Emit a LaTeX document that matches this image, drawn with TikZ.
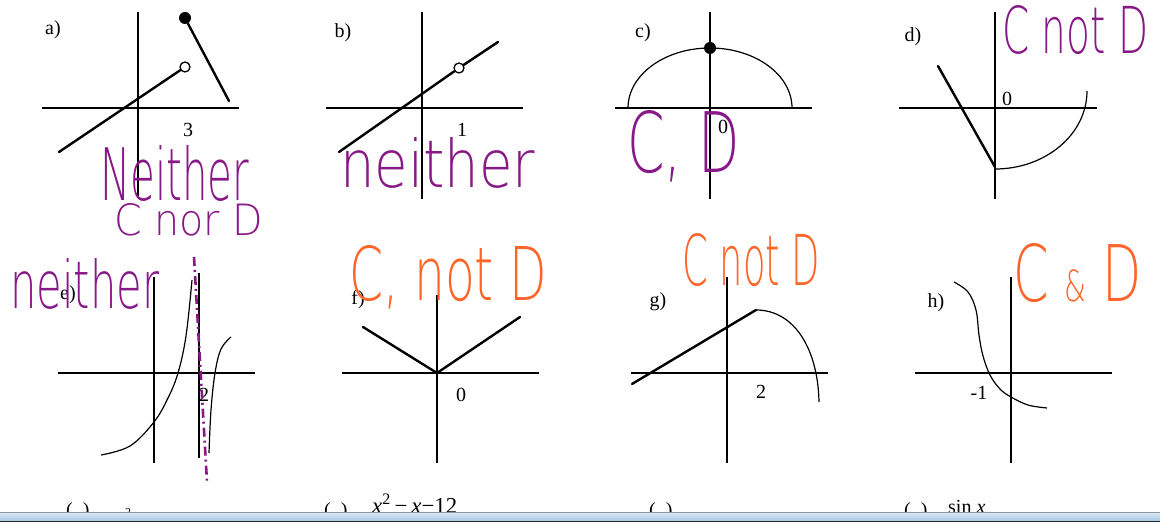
\documentclass[tikz,border=0pt]{standalone}
\usepackage{fontspec}
\usepackage{graphicx}
\setmainfont{Liberation Serif}
\newfontfamily\hand{DejaVu Sans ExtraLight}
\definecolor{ink}{RGB}{135,25,135}
\definecolor{hl}{RGB}{255,100,40}
\definecolor{barhi}{RGB}{215,230,245}
\definecolor{barlo}{RGB}{170,200,232}
\definecolor{barline}{RGB}{140,150,160}
\newcommand{\hw}[3]{\resizebox{#1pt}{#2pt}{\hand #3}}
\begin{document}
\begin{tikzpicture}[x=1pt,y=-1pt,
  axis/.style={line width=2.2pt,black},
  graph/.style={line width=2.4pt,black,line cap=round},
  curve/.style={line width=1.2pt,black},
  lbl/.style={font=\fontsize{20}{23}\selectfont, inner sep=0pt},
  odot/.style={circle, draw, line width=1.3pt, fill=white, minimum size=10pt, inner sep=0pt},
  fdot/.style={circle, fill=black, minimum size=12pt, inner sep=0pt},
  hwp/.style={text=ink, inner sep=0pt, anchor=north west},
  hwo/.style={text=hl, inner sep=0pt, anchor=north west}]
\useasboundingbox[fill=white] (0,0) rectangle (1160,529);

% ---------- a ----------
\draw[axis] (42,108) -- (239,108);
\draw[axis] (138,12) -- (138,197);
\node[odot] (ao) at (185,67) {};
\node[fdot] (af) at (185,18) {};
\coordinate (a1) at (59,152);
\coordinate (a2) at (229,101);
\draw[graph] (a1) -- (ao);
\draw[graph] (af) -- (a2);
\node[lbl] (alab) at (53,30) {a)};
\node[lbl] (a3) at (188,130) {3};

% ---------- b ----------
\draw[axis] (326,108) -- (523,108);
\draw[axis] (422,12) -- (422,199);
\node[odot] (bo) at (459,68) {};
\coordinate (b1) at (339,152);
\coordinate (b2) at (498,42);
\draw[graph] (b1) -- (bo);
\draw[graph] (bo) -- (b2);
\node[lbl] (blab) at (343,33) {b)};
\node[lbl] (b1l) at (462,130) {1};

% ---------- c ----------
\draw[axis] (615,108) -- (812,108);
\draw[axis] (710,12) -- (710,199);
\draw[curve] (628,108) arc[start angle=180, end angle=360, x radius=82, y radius=60];
\node[fdot] (cf) at (710,48) {};
\node[lbl] (clab) at (643,33) {c)};
\node[lbl] (c0) at (723,127) {0};

% ---------- d ----------
\draw[axis] (899,108) -- (1097,108);
\draw[axis] (995,12) -- (995,199);
\coordinate (d1) at (938,66);
\coordinate (d2) at (995,167);
\draw[graph] (d1) -- (d2);
\draw[curve] (995,169) arc[start angle=90, end angle=0, x radius=92, y radius=78];
\node[lbl] (dlab) at (913,37) {d)};
\node[lbl] (d0) at (1007,99) {0};

% ---------- e ----------
\draw[axis] (58,373) -- (255,373);
\draw[axis] (154,277) -- (154,463);
\draw[line width=1.3pt] (199,273) -- (199,458);
\draw[curve] plot[smooth, tension=0.6] coordinates {(101,455) (130,446) (154,422) (168,398) (178,373) (186,336) (192,280)};
\draw[curve] plot[smooth, tension=0.6] coordinates {(209,453) (211,410) (215,373) (221,349) (231,337)};
\node[lbl] (elab) at (68,295) {e)};
\node[lbl] (e2) at (204,395) {2};
\coordinate (ea) at (194,257);
\coordinate (eb) at (207,482);
\draw[ink, line width=2.6pt, dash pattern=on 9pt off 4pt on 2pt off 4pt] (ea) -- (eb);

% ---------- f ----------
\draw[axis] (342,373) -- (539,373);
\draw[axis] (437,295) -- (437,463);
\coordinate (f1) at (363,327);
\coordinate (f0) at (437,373);
\coordinate (f2) at (520,317);
\draw[graph] (f1) -- (f0) -- (f2);
\node[lbl] (flab) at (358,300) {f)};
\node[lbl] (f0l) at (461,395) {0};

% ---------- g ----------
\draw[axis] (631,373) -- (828,373);
\draw[axis] (727,277) -- (727,463);
\coordinate (g1) at (632,384);
\coordinate (g2) at (756,310);
\coordinate (g3) at (819,402);
\draw[graph] (g1) -- (g2);
\draw[curve] (g2) .. controls (795,310) and (818,350) .. (g3);
\node[lbl] (glab) at (658,302) {g)};
\node[lbl] (g2l) at (761,392) {2};

% ---------- h ----------
\draw[axis] (915,373) -- (1112,373);
\draw[axis] (1011,277) -- (1011,463);
\draw[curve] plot[smooth, tension=0.6] coordinates {(954,282) (968,292) (976,310) (979,335) (983,356) (990,375) (1000,389) (1011,397) (1028,405) (1047,408)};
\node[lbl] (hlab) at (936,303) {h)};
\node[lbl] (hm1) at (979,393) {-1};

% ---------- bottom (cut-off) text ----------
\node[lbl, anchor=base west] (q1) at (66,516) {(\hspace{10pt})};
\node[font=\fontsize{12}{14}\selectfont, inner sep=0pt, anchor=base] (q1s) at (128,516) {2};
\node[lbl, anchor=base west] (q2) at (324,516) {(\hspace{10pt})};
\node[lbl, anchor=base west] (q2t) at (372,513) {\resizebox{85pt}{!}{\itshape x\textsuperscript{\upshape 2}\upshape\,−\,\itshape x\upshape −12}};
\node[lbl, anchor=base west] (q3) at (649,516) {(\hspace{10pt})};
\node[lbl, anchor=base west] (q4) at (904,516) {(\hspace{10pt})};
\node[lbl, anchor=base west] (q4t) at (948,513) {sin \itshape x};

% ---------- window bar ----------
\fill[barline] (0,511.5) rectangle (1160,513);
\shade[top color=barhi, bottom color=barlo] (0,513) rectangle (1160,520.5);
\fill[black!85] (0,520.5) rectangle (1160,522);
\fill[white] (0,522) rectangle (1160,529);

% ---------- handwriting ----------
\node[hwp] (wa1) at (100,145) {\hw{149}{55}{Neither}};
\node[hwp] (wa2) at (114,203) {\hw{149}{32}{C nor D}};
\node[hwp] (wb) at (340,137) {\hw{195}{50}{neither}};
\node[hwp] (wc) at (627,110) {\hw{113}{62}{C, D}};
\node[hwp] (wd) at (1002,5) {\hw{146}{48}{C not D}};
\node[hwp] (we) at (10,258) {\hw{149}{50}{neither}};
\node[hwo] (wf) at (349,245) {\hw{198}{55}{C, not D}};
\node[hwo] (wg) at (682,233) {\hw{138}{52}{C not D}};
\node[hwo] (wh) at (1013,243) {\hw{129}{58}{C \scalebox{0.55}{\&} D}};
\end{tikzpicture}
\end{document}
